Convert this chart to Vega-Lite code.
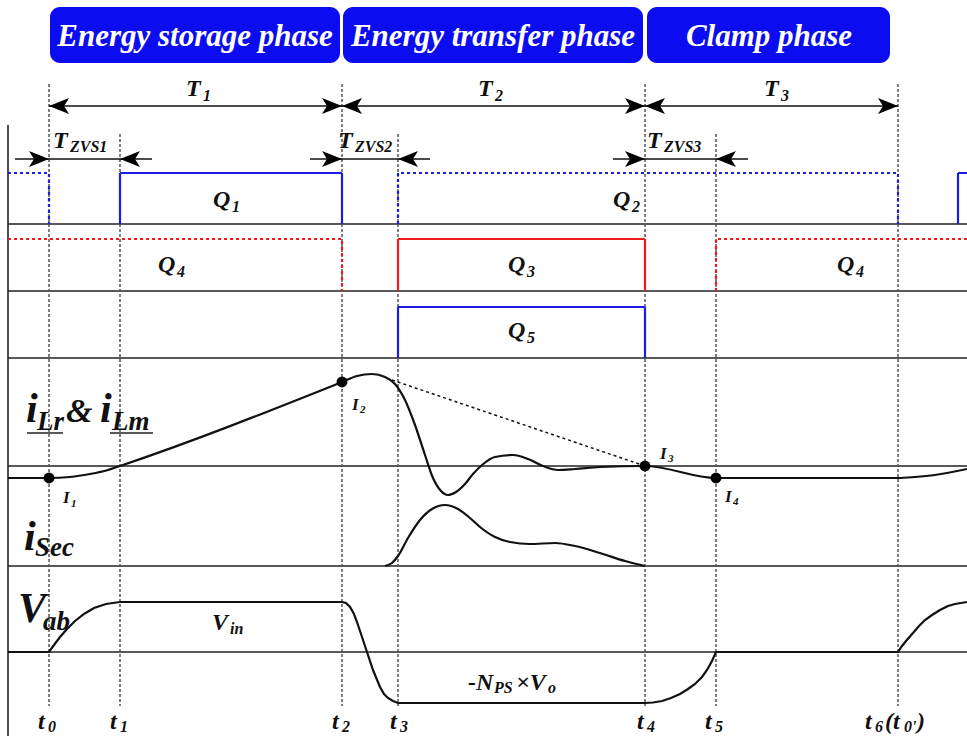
{
"$schema": "https://vega.github.io/schema/vega-lite/v6.json",
"width": 967, "height": 736,
"autosize": {"type": "none"},
"padding": 0,
"background": "white",
"config": {"view": {"stroke": null}, "text": {"font": "'Liberation Serif', 'Times New Roman', 'DejaVu Serif', serif"}},
"datasets": {
"banners": [
{"label": "Energy storage phase", "x": 50, "x2": 340, "y": 7, "y2": 63, "cx": 195, "ty": 46},
{"label": "Energy transfer phase", "x": 343, "x2": 643, "y": 7, "y2": 63, "cx": 493, "ty": 46},
{"label": "Clamp phase", "x": 647, "x2": 890, "y": 7, "y2": 63, "cx": 769, "ty": 46}
],
"grid": [
{"x": 8, "x2": 967, "y": 224, "y2": 224},
{"x": 8, "x2": 967, "y": 291, "y2": 291},
{"x": 8, "x2": 967, "y": 358, "y2": 358},
{"x": 8, "x2": 967, "y": 466, "y2": 466},
{"x": 8, "x2": 967, "y": 566, "y2": 566},
{"x": 8, "x2": 967, "y": 652, "y2": 652},
{"x": 8, "x2": 8, "y": 125, "y2": 736}
],
"markers": [
{"t": "t0", "x": 49, "y": 84, "y2": 706},
{"t": "t1", "x": 120, "y": 134, "y2": 706},
{"t": "t2", "x": 342, "y": 84, "y2": 706},
{"t": "t3", "x": 398, "y": 134, "y2": 706},
{"t": "t4", "x": 645, "y": 84, "y2": 706},
{"t": "t5", "x": 716, "y": 134, "y2": 706},
{"t": "t6", "x": 898, "y": 84, "y2": 706}
],
"gates": [
{"id": "g1", "sw": "Q1", "st": "off", "x": 8, "y": 173},
{"id": "g1", "sw": "Q1", "st": "off", "x": 49, "y": 173},
{"id": "g1", "sw": "Q1", "st": "off", "x": 49, "y": 224},
{"id": "g2", "sw": "Q1", "st": "on", "x": 120, "y": 224},
{"id": "g2", "sw": "Q1", "st": "on", "x": 120, "y": 173},
{"id": "g2", "sw": "Q1", "st": "on", "x": 342, "y": 173},
{"id": "g2", "sw": "Q1", "st": "on", "x": 342, "y": 224},
{"id": "g3", "sw": "Q2", "st": "off", "x": 398, "y": 224},
{"id": "g3", "sw": "Q2", "st": "off", "x": 398, "y": 173},
{"id": "g3", "sw": "Q2", "st": "off", "x": 898, "y": 173},
{"id": "g3", "sw": "Q2", "st": "off", "x": 898, "y": 224},
{"id": "g4", "sw": "Q1", "st": "on", "x": 958, "y": 224},
{"id": "g4", "sw": "Q1", "st": "on", "x": 958, "y": 173},
{"id": "g4", "sw": "Q1", "st": "on", "x": 967, "y": 173},
{"id": "g5", "sw": "Q4", "st": "off", "x": 8, "y": 239},
{"id": "g5", "sw": "Q4", "st": "off", "x": 342, "y": 239},
{"id": "g5", "sw": "Q4", "st": "off", "x": 342, "y": 291},
{"id": "g6", "sw": "Q3", "st": "on", "x": 398, "y": 291},
{"id": "g6", "sw": "Q3", "st": "on", "x": 398, "y": 239},
{"id": "g6", "sw": "Q3", "st": "on", "x": 645, "y": 239},
{"id": "g6", "sw": "Q3", "st": "on", "x": 645, "y": 291},
{"id": "g7", "sw": "Q4", "st": "off", "x": 716, "y": 291},
{"id": "g7", "sw": "Q4", "st": "off", "x": 716, "y": 239},
{"id": "g7", "sw": "Q4", "st": "off", "x": 967, "y": 239},
{"id": "g8", "sw": "Q5", "st": "on", "x": 398, "y": 358},
{"id": "g8", "sw": "Q5", "st": "on", "x": 398, "y": 307},
{"id": "g8", "sw": "Q5", "st": "on", "x": 645, "y": 307},
{"id": "g8", "sw": "Q5", "st": "on", "x": 645, "y": 358}
],
"envelope": [
{"x": 392, "y": 380}, {"x": 645, "y": 466}
],
"waves": [
{"id": "iLr", "x": 8, "y": 478}, {"id": "iLr", "x": 49, "y": 478}, {"id": "iLr", "x": 70, "y": 477},
{"id": "iLr", "x": 90, "y": 474}, {"id": "iLr", "x": 108, "y": 470}, {"id": "iLr", "x": 120, "y": 466},
{"id": "iLr", "x": 342, "y": 382}, {"id": "iLr", "x": 357, "y": 376}, {"id": "iLr", "x": 372, "y": 374},
{"id": "iLr", "x": 385, "y": 377}, {"id": "iLr", "x": 395, "y": 384}, {"id": "iLr", "x": 405, "y": 400},
{"id": "iLr", "x": 415, "y": 425}, {"id": "iLr", "x": 425, "y": 455}, {"id": "iLr", "x": 433, "y": 478},
{"id": "iLr", "x": 441, "y": 491}, {"id": "iLr", "x": 448, "y": 495}, {"id": "iLr", "x": 456, "y": 492},
{"id": "iLr", "x": 465, "y": 484}, {"id": "iLr", "x": 473, "y": 474}, {"id": "iLr", "x": 482, "y": 465},
{"id": "iLr", "x": 495, "y": 457}, {"id": "iLr", "x": 513, "y": 455}, {"id": "iLr", "x": 528, "y": 459},
{"id": "iLr", "x": 543, "y": 466}, {"id": "iLr", "x": 558, "y": 470}, {"id": "iLr", "x": 575, "y": 469},
{"id": "iLr", "x": 600, "y": 467}, {"id": "iLr", "x": 645, "y": 466}, {"id": "iLr", "x": 716, "y": 478},
{"id": "iLr", "x": 898, "y": 478}, {"id": "iLr", "x": 915, "y": 477}, {"id": "iLr", "x": 935, "y": 475},
{"id": "iLr", "x": 967, "y": 469},
{"id": "iSec", "x": 385, "y": 566}, {"id": "iSec", "x": 392, "y": 563}, {"id": "iSec", "x": 398, "y": 556},
{"id": "iSec", "x": 408, "y": 538}, {"id": "iSec", "x": 420, "y": 520}, {"id": "iSec", "x": 432, "y": 509},
{"id": "iSec", "x": 445, "y": 505}, {"id": "iSec", "x": 458, "y": 509}, {"id": "iSec", "x": 470, "y": 518},
{"id": "iSec", "x": 480, "y": 527}, {"id": "iSec", "x": 495, "y": 537}, {"id": "iSec", "x": 510, "y": 542},
{"id": "iSec", "x": 530, "y": 544}, {"id": "iSec", "x": 555, "y": 543}, {"id": "iSec", "x": 575, "y": 546},
{"id": "iSec", "x": 600, "y": 553}, {"id": "iSec", "x": 625, "y": 561}, {"id": "iSec", "x": 645, "y": 566},
{"id": "Vab", "x": 8, "y": 652}, {"id": "Vab", "x": 49, "y": 652}, {"id": "Vab", "x": 54, "y": 645},
{"id": "Vab", "x": 60, "y": 637}, {"id": "Vab", "x": 67, "y": 629}, {"id": "Vab", "x": 75, "y": 621},
{"id": "Vab", "x": 84, "y": 614}, {"id": "Vab", "x": 94, "y": 608}, {"id": "Vab", "x": 106, "y": 604},
{"id": "Vab", "x": 120, "y": 602}, {"id": "Vab", "x": 342, "y": 602}, {"id": "Vab", "x": 346, "y": 603},
{"id": "Vab", "x": 350, "y": 607}, {"id": "Vab", "x": 354, "y": 614}, {"id": "Vab", "x": 357, "y": 622},
{"id": "Vab", "x": 362, "y": 637}, {"id": "Vab", "x": 367, "y": 652}, {"id": "Vab", "x": 373, "y": 670},
{"id": "Vab", "x": 380, "y": 687}, {"id": "Vab", "x": 384, "y": 694}, {"id": "Vab", "x": 388, "y": 698},
{"id": "Vab", "x": 393, "y": 701}, {"id": "Vab", "x": 398, "y": 703}, {"id": "Vab", "x": 645, "y": 703},
{"id": "Vab", "x": 653, "y": 702.5}, {"id": "Vab", "x": 662, "y": 701}, {"id": "Vab", "x": 671, "y": 698},
{"id": "Vab", "x": 680, "y": 694}, {"id": "Vab", "x": 688, "y": 689}, {"id": "Vab", "x": 695, "y": 684},
{"id": "Vab", "x": 702, "y": 677}, {"id": "Vab", "x": 707, "y": 670}, {"id": "Vab", "x": 712, "y": 661},
{"id": "Vab", "x": 716, "y": 652}, {"id": "Vab", "x": 898, "y": 652}, {"id": "Vab", "x": 902, "y": 646},
{"id": "Vab", "x": 906, "y": 641}, {"id": "Vab", "x": 913, "y": 633}, {"id": "Vab", "x": 919, "y": 626},
{"id": "Vab", "x": 925, "y": 620}, {"id": "Vab", "x": 932, "y": 615}, {"id": "Vab", "x": 940, "y": 610},
{"id": "Vab", "x": 948, "y": 606}, {"id": "Vab", "x": 955, "y": 604}, {"id": "Vab", "x": 967, "y": 602}
],
"dims": [
{"x": 49, "x2": 898, "y": 106},
{"x": 15, "x2": 152, "y": 159},
{"x": 310, "x2": 430, "y": 159},
{"x": 613, "x2": 748, "y": 159}
],
"heads": [
{"x": 49, "y": 106, "dir": "left"}, {"x": 342, "y": 106, "dir": "right"},
{"x": 342, "y": 106, "dir": "left"}, {"x": 645, "y": 106, "dir": "right"},
{"x": 645, "y": 106, "dir": "left"}, {"x": 898, "y": 106, "dir": "right"},
{"x": 49, "y": 159, "dir": "right"}, {"x": 120, "y": 159, "dir": "left"},
{"x": 342, "y": 159, "dir": "right"}, {"x": 398, "y": 159, "dir": "left"},
{"x": 645, "y": 159, "dir": "right"}, {"x": 716, "y": 159, "dir": "left"}
],
"nodes": [
{"name": "I1", "x": 49, "y": 478}, {"name": "I2", "x": 342, "y": 382},
{"name": "I3", "x": 645, "y": 466}, {"name": "I4", "x": 716, "y": 478}
],
"underlines": [
{"x": 27, "x2": 63, "y": 433}, {"x": 110, "x2": 153, "y": 433}
],
"labels": [
{"txt": "T", "x": 186, "y": 96, "r": "m"}, {"txt": "1", "x": 203, "y": 101, "r": "s"},
{"txt": "T", "x": 478, "y": 96, "r": "m"}, {"txt": "2", "x": 495, "y": 101, "r": "s"},
{"txt": "T", "x": 764, "y": 96, "r": "m"}, {"txt": "3", "x": 781, "y": 101, "r": "s"},
{"txt": "T", "x": 53, "y": 148, "r": "m"}, {"txt": "ZVS1", "x": 70, "y": 152, "r": "s"},
{"txt": "T", "x": 338, "y": 148, "r": "m"}, {"txt": "ZVS2", "x": 355, "y": 152, "r": "s"},
{"txt": "T", "x": 647, "y": 148, "r": "m"}, {"txt": "ZVS3", "x": 664, "y": 152, "r": "s"},
{"txt": "Q", "x": 213, "y": 207, "r": "m"}, {"txt": "1", "x": 232, "y": 212, "r": "s"},
{"txt": "Q", "x": 158, "y": 272, "r": "m"}, {"txt": "4", "x": 177, "y": 277, "r": "s"},
{"txt": "Q", "x": 613, "y": 207, "r": "m"}, {"txt": "2", "x": 632, "y": 212, "r": "s"},
{"txt": "Q", "x": 508, "y": 272, "r": "m"}, {"txt": "3", "x": 527, "y": 277, "r": "s"},
{"txt": "Q", "x": 508, "y": 338, "r": "m"}, {"txt": "5", "x": 527, "y": 343, "r": "s"},
{"txt": "Q", "x": 837, "y": 272, "r": "m"}, {"txt": "4", "x": 856, "y": 277, "r": "s"},
{"txt": "i", "x": 26, "y": 422, "r": "b"}, {"txt": "Lr", "x": 37, "y": 430, "r": "bs"},
{"txt": "&", "x": 66, "y": 422, "r": "a"}, {"txt": "i", "x": 100, "y": 422, "r": "b"},
{"txt": "Lm", "x": 112, "y": 430, "r": "bs"},
{"txt": "i", "x": 24, "y": 550, "r": "b"}, {"txt": "Sec", "x": 35, "y": 556, "r": "bs"},
{"txt": "V", "x": 18, "y": 622, "r": "b"}, {"txt": "ab", "x": 43, "y": 630, "r": "bs"},
{"txt": "V", "x": 212, "y": 630, "r": "m"}, {"txt": "in", "x": 230, "y": 634, "r": "s"},
{"txt": "-N", "x": 468, "y": 690, "r": "m"}, {"txt": "PS", "x": 494, "y": 693, "r": "s"},
{"txt": "×V", "x": 516, "y": 690, "r": "m"}, {"txt": "o", "x": 548, "y": 693, "r": "s"},
{"txt": "I", "x": 63, "y": 503, "r": "sm"}, {"txt": "1", "x": 71, "y": 507, "r": "ss"},
{"txt": "I", "x": 352, "y": 410, "r": "sm"}, {"txt": "2", "x": 360, "y": 413, "r": "ss"},
{"txt": "I", "x": 660, "y": 459, "r": "sm"}, {"txt": "3", "x": 668, "y": 462, "r": "ss"},
{"txt": "I", "x": 725, "y": 502, "r": "sm"}, {"txt": "4", "x": 733, "y": 505, "r": "ss"},
{"txt": "t", "x": 38, "y": 729, "r": "m"}, {"txt": "0", "x": 48, "y": 732, "r": "s"},
{"txt": "t", "x": 110, "y": 729, "r": "m"}, {"txt": "1", "x": 120, "y": 732, "r": "s"},
{"txt": "t", "x": 332, "y": 729, "r": "m"}, {"txt": "2", "x": 342, "y": 732, "r": "s"},
{"txt": "t", "x": 390, "y": 729, "r": "m"}, {"txt": "3", "x": 400, "y": 732, "r": "s"},
{"txt": "t", "x": 637, "y": 729, "r": "m"}, {"txt": "4", "x": 647, "y": 732, "r": "s"},
{"txt": "t", "x": 705, "y": 729, "r": "m"}, {"txt": "5", "x": 715, "y": 732, "r": "s"},
{"txt": "t", "x": 865, "y": 729, "r": "m"}, {"txt": "6", "x": 875, "y": 732, "r": "s"},
{"txt": "(t", "x": 885, "y": 729, "r": "m"}, {"txt": "0'", "x": 904, "y": 732, "r": "s"},
{"txt": ")", "x": 917, "y": 729, "r": "m"}
]
},
"encoding": {
"x": {"field": "x", "type": "quantitative", "scale": {"domain": [0, 967], "nice": false, "zero": false}, "axis": null},
"y": {"field": "y", "type": "quantitative", "scale": {"domain": [0, 736], "nice": false, "zero": false, "reverse": true}, "axis": null}
},
"layer": [
{"data": {"name": "banners"}, "mark": {"type": "rect", "fill": "#0c0cf0", "cornerRadius": 10},
 "encoding": {"x2": {"field": "x2"}, "y2": {"field": "y2"}}},
{"data": {"name": "banners"}, "mark": {"type": "text", "fontWeight": "bold", "fontStyle": "italic", "fontSize": 31, "color": "white", "align": "center", "baseline": "alphabetic"},
 "encoding": {"x": {"field": "cx", "type": "quantitative"}, "y": {"field": "ty", "type": "quantitative"}, "text": {"field": "label"}}},
{"data": {"name": "grid"}, "mark": {"type": "rule", "color": "#222", "strokeWidth": 1.6},
 "encoding": {"x2": {"field": "x2"}, "y2": {"field": "y2"}}},
{"data": {"name": "markers"}, "mark": {"type": "rule", "color": "#555", "strokeWidth": 1.5, "strokeDash": [3, 2]},
 "encoding": {"y2": {"field": "y2"}}},
{"data": {"name": "gates"}, "mark": {"type": "line", "strokeWidth": 2.2},
 "encoding": {
  "color": {"field": "sw", "type": "nominal", "scale": {"domain": ["Q1", "Q2", "Q3", "Q4", "Q5"], "range": ["#1d1de0", "#1d1de0", "#ee1c1c", "#ee1c1c", "#1d1de0"]}, "legend": null},
  "strokeDash": {"field": "st", "type": "nominal", "scale": {"domain": ["on", "off"], "range": [[1, 0], [3, 3]]}, "legend": null},
  "detail": {"field": "id"},
  "order": {"value": null}}},
{"data": {"name": "envelope"}, "mark": {"type": "line", "color": "#111", "strokeWidth": 1.5, "strokeDash": [3, 3]},
 "encoding": {"order": {"value": null}}},
{"data": {"name": "waves"}, "transform": [{"filter": "datum.id !== 'Vab'"}], "mark": {"type": "line", "color": "#111", "strokeWidth": 2.2, "interpolate": "monotone"},
 "encoding": {"detail": {"field": "id"}, "order": {"value": null}}},
{"data": {"name": "waves"}, "transform": [{"filter": "datum.id === 'Vab'"}], "mark": {"type": "line", "color": "#111", "strokeWidth": 2.2},
 "encoding": {"order": {"value": null}}},
{"data": {"name": "dims"}, "mark": {"type": "rule", "color": "#111", "strokeWidth": 1.6},
 "encoding": {"x2": {"field": "x2"}}},
{"data": {"name": "heads"}, "mark": {"type": "point", "filled": true, "color": "#000", "size": 100, "opacity": 1},
 "encoding": {"shape": {"field": "dir", "type": "nominal", "scale": {"domain": ["right", "left"], "range": ["M0,0L-4,-1.6L-3,0L-4,1.6Z", "M0,0L4,-1.6L3,0L4,1.6Z"]}, "legend": null}}},
{"data": {"name": "nodes"}, "mark": {"type": "point", "shape": "circle", "filled": true, "color": "#000", "size": 120, "opacity": 1}},
{"data": {"name": "underlines"}, "mark": {"type": "rule", "color": "#222", "strokeWidth": 1.5},
 "encoding": {"x2": {"field": "x2"}}},
{"data": {"name": "labels"}, "transform": [{"filter": "datum.r === 'm'"}], "mark": {"type": "text", "fontWeight": "bold", "fontStyle": "italic", "fontSize": 24, "color": "#111", "align": "left", "baseline": "alphabetic"}, "encoding": {"text": {"field": "txt"}}},
{"data": {"name": "labels"}, "transform": [{"filter": "datum.r === 's'"}], "mark": {"type": "text", "fontWeight": "bold", "fontStyle": "italic", "fontSize": 16, "color": "#111", "align": "left", "baseline": "alphabetic"}, "encoding": {"text": {"field": "txt"}}},
{"data": {"name": "labels"}, "transform": [{"filter": "datum.r === 'b'"}], "mark": {"type": "text", "fontWeight": "bold", "fontStyle": "italic", "fontSize": 42, "color": "#111", "align": "left", "baseline": "alphabetic"}, "encoding": {"text": {"field": "txt"}}},
{"data": {"name": "labels"}, "transform": [{"filter": "datum.r === 'bs'"}], "mark": {"type": "text", "fontWeight": "bold", "fontStyle": "italic", "fontSize": 27, "color": "#111", "align": "left", "baseline": "alphabetic"}, "encoding": {"text": {"field": "txt"}}},
{"data": {"name": "labels"}, "transform": [{"filter": "datum.r === 'a'"}], "mark": {"type": "text", "fontWeight": "bold", "fontStyle": "italic", "fontSize": 34, "color": "#111", "align": "left", "baseline": "alphabetic"}, "encoding": {"text": {"field": "txt"}}},
{"data": {"name": "labels"}, "transform": [{"filter": "datum.r === 'sm'"}], "mark": {"type": "text", "fontWeight": "bold", "fontStyle": "italic", "fontSize": 17, "color": "#111", "align": "left", "baseline": "alphabetic"}, "encoding": {"text": {"field": "txt"}}},
{"data": {"name": "labels"}, "transform": [{"filter": "datum.r === 'ss'"}], "mark": {"type": "text", "fontWeight": "bold", "fontStyle": "italic", "fontSize": 11, "color": "#111", "align": "left", "baseline": "alphabetic"}, "encoding": {"text": {"field": "txt"}}}
]
}
